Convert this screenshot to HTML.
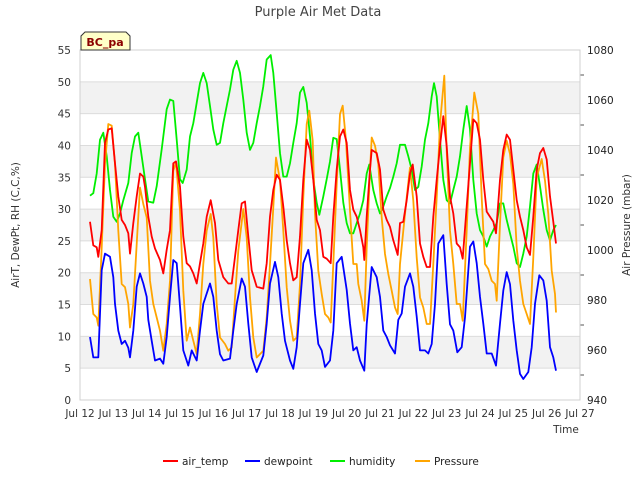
<!DOCTYPE html>
<html><head><meta charset="utf-8"><style>
body{margin:0;background:#fff;}
svg{display:block;font-family:"DejaVu Sans","Liberation Sans",sans-serif;}
</style></head><body>
<svg id="chart" width="640" height="480" viewBox="0 0 640 480" xmlns="http://www.w3.org/2000/svg">
<text x="318" y="16" text-anchor="middle" font-size="13" fill="#444">Purple Air Met Data</text>
<text transform="translate(19,225) rotate(-90)" text-anchor="middle" font-size="10.5" fill="#333">AirT, DewPt, RH (C,C,%)</text>
<text transform="translate(630,225) rotate(-90)" text-anchor="middle" font-size="10.5" fill="#333">Air Pressure (mbar)</text>
<text x="566" y="433" text-anchor="middle" font-size="10.5" fill="#333">Time</text>
<g id="bands"></g>
<g id="grid"></g>
<g id="axes"></g>
<g id="series"></g>
<g>
<path d="M85,32 L126,32 L130,36 L130,50 L81,50 L81,36 Z" fill="#ffffc8" stroke="#333" stroke-width="1"/>
<text x="105" y="46" text-anchor="middle" font-size="11" font-weight="bold" fill="#8b0000">BC_pa</text>
</g>
<g id="legend"></g>
</svg>
<script>
const xTickLabels=["Jul 12","Jul 13","Jul 14","Jul 15","Jul 16","Jul 17","Jul 18","Jul 19","Jul 20","Jul 21","Jul 22","Jul 23","Jul 24","Jul 25","Jul 26","Jul 27"];
const yTicks=[0,5,10,15,20,25,30,35,40,45,50,55];
const y2Ticks=[940,960,980,1000,1020,1040,1060,1080];
const seriesNames=["air_temp","dewpoint","humidity","Pressure"];
const tempT=[0.30,0.40,0.50,0.55,0.65,0.75,0.85,0.95,1.05,1.15,1.25,1.35,1.45,1.50,1.60,1.70,1.80,1.90,1.95,2.05,2.15,2.25,2.40,2.50,2.60,2.70,2.80,2.88,3.00,3.10,3.20,3.30,3.40,3.50,3.60,3.70,3.80,3.92,4.05,4.15,4.30,4.45,4.55,4.65,4.75,4.85,4.95,5.05,5.15,5.30,5.50,5.60,5.70,5.80,5.90,6.00,6.10,6.20,6.30,6.40,6.50,6.60,6.70,6.80,6.90,7.00,7.10,7.20,7.30,7.40,7.52,7.60,7.70,7.80,7.90,8.00,8.10,8.20,8.30,8.40,8.50,8.53,8.60,8.70,8.75,8.90,9.00,9.10,9.20,9.30,9.40,9.53,9.60,9.70,9.80,9.90,9.98,10.10,10.20,10.30,10.40,10.50,10.60,10.70,10.80,10.90,11.00,11.10,11.20,11.30,11.40,11.48,11.60,11.70,11.80,11.90,12.00,12.10,12.20,12.30,12.40,12.48,12.60,12.70,12.80,12.90,13.00,13.10,13.20,13.30,13.40,13.50,13.60,13.70,13.80,13.90,14.00,14.10,14.20,14.28];
const tempV=[28.0,24.3,24.0,22.5,26.7,40.4,42.5,42.7,37.2,32.0,28.3,27.5,26.2,23.0,27.8,32.0,35.6,35.1,33.5,28.8,25.7,23.8,22.0,19.9,23.6,26.7,37.2,37.5,33.5,25.7,21.5,21.0,19.9,18.3,21.5,24.6,28.8,31.4,27.8,22.0,19.3,18.3,18.3,22.5,26.7,30.9,31.2,25.7,20.4,17.8,17.5,21.5,28.8,33.0,35.4,34.6,30.4,25.1,21.5,18.8,19.3,25.7,34.6,40.9,39.3,34.6,28.3,26.7,22.5,22.2,21.5,28.8,36.2,41.4,42.5,40.4,33.0,29.9,28.8,26.7,24.0,22.0,28.8,36.2,39.3,38.8,36.2,29.9,28.3,27.2,25.1,22.8,27.8,28.0,31.4,35.6,37.0,32.0,24.6,22.5,20.9,20.9,28.8,34.6,39.9,44.6,39.9,32.0,29.3,24.6,24.0,22.2,30.4,37.2,44.1,43.5,40.9,34.6,29.6,28.8,28.0,26.2,34.6,39.3,41.7,40.9,36.2,31.4,28.8,26.7,24.0,22.8,28.8,36.2,38.8,39.6,37.8,32.0,28.0,24.6];
const dewT=[0.30,0.40,0.55,0.65,0.75,0.90,1.00,1.05,1.15,1.25,1.35,1.45,1.50,1.60,1.70,1.80,1.90,2.00,2.05,2.15,2.25,2.40,2.50,2.60,2.70,2.80,2.90,3.00,3.10,3.25,3.35,3.50,3.60,3.70,3.90,4.00,4.10,4.20,4.30,4.50,4.60,4.70,4.85,4.95,5.05,5.15,5.30,5.50,5.60,5.70,5.85,5.95,6.05,6.15,6.30,6.40,6.50,6.60,6.70,6.85,6.95,7.05,7.15,7.25,7.35,7.50,7.60,7.70,7.85,8.00,8.10,8.20,8.30,8.40,8.53,8.60,8.75,8.90,9.00,9.10,9.20,9.30,9.45,9.55,9.65,9.75,9.90,10.00,10.10,10.20,10.35,10.45,10.55,10.65,10.75,10.90,11.00,11.10,11.20,11.32,11.45,11.55,11.70,11.80,11.90,12.00,12.10,12.20,12.35,12.48,12.60,12.70,12.80,12.90,13.00,13.10,13.20,13.30,13.45,13.55,13.65,13.78,13.90,14.00,14.10,14.20,14.28];
const dewV=[9.9,6.7,6.7,20.4,23.0,22.5,19.3,15.1,10.9,8.8,9.3,8.2,6.7,10.9,17.8,19.9,18.3,16.2,12.6,9.3,6.2,6.5,5.7,9.9,16.2,22.0,21.5,14.7,7.8,5.4,7.8,6.2,10.9,15.1,18.3,16.2,10.9,7.2,6.2,6.5,10.9,15.1,19.1,17.8,12.0,6.7,4.4,7.0,12.0,18.3,21.7,19.3,13.6,9.3,6.2,4.9,8.3,15.1,21.5,23.6,20.4,13.6,8.8,7.8,5.2,6.2,10.9,21.5,22.5,17.3,12.0,7.8,8.3,6.2,4.6,11.9,20.9,19.3,16.2,10.9,9.9,8.6,7.3,12.6,13.6,17.8,19.9,17.8,13.1,7.8,7.8,7.3,8.8,15.1,24.6,25.9,18.2,11.9,10.9,7.5,8.3,13.0,24.1,24.9,21.5,16.2,12.0,7.3,7.3,5.4,12.0,17.2,20.1,18.2,12.5,7.8,4.1,3.3,4.4,8.3,15.1,19.6,18.8,15.6,8.3,6.7,4.6];
const humT=[0.30,0.40,0.50,0.60,0.70,0.80,0.90,1.00,1.10,1.20,1.30,1.45,1.55,1.65,1.75,1.85,1.95,2.05,2.20,2.30,2.45,2.60,2.70,2.80,2.90,3.00,3.08,3.20,3.30,3.40,3.50,3.60,3.70,3.80,3.90,4.00,4.10,4.20,4.30,4.40,4.50,4.60,4.70,4.80,4.90,5.00,5.10,5.20,5.30,5.40,5.50,5.60,5.72,5.80,5.90,6.00,6.10,6.20,6.30,6.40,6.50,6.60,6.70,6.80,6.90,7.00,7.10,7.18,7.30,7.40,7.50,7.60,7.70,7.80,7.90,8.00,8.10,8.20,8.30,8.40,8.50,8.60,8.68,8.80,8.90,9.00,9.10,9.20,9.30,9.40,9.50,9.60,9.75,9.85,9.95,10.05,10.15,10.25,10.35,10.45,10.55,10.62,10.70,10.80,10.90,11.00,11.10,11.20,11.30,11.40,11.50,11.60,11.70,11.80,11.90,12.00,12.10,12.20,12.30,12.40,12.50,12.60,12.70,12.80,12.90,13.00,13.10,13.20,13.30,13.40,13.50,13.60,13.70,13.80,13.90,14.00,14.10,14.20,14.28];
const humV=[32.1,32.5,35.6,40.9,42.0,38.3,33.0,28.8,28.0,29.3,31.4,34.1,38.8,41.4,42.0,38.3,34.7,31.2,31.0,33.6,39.4,45.7,47.2,47.0,40.9,34.7,34.1,36.2,41.4,43.5,46.7,49.8,51.4,49.8,46.2,42.5,40.1,40.4,43.5,46.2,48.8,51.9,53.3,51.4,47.2,42.0,39.3,40.4,43.5,46.2,49.3,53.5,54.2,51.4,45.1,38.8,35.1,35.1,37.2,40.4,43.5,48.3,49.2,46.7,41.4,34.7,31.0,29.1,32.0,34.7,37.5,41.2,41.0,36.2,31.0,27.8,26.2,26.2,27.8,29.3,31.4,35.6,37.0,33.0,30.9,29.3,30.4,32.0,33.3,35.1,37.2,40.1,40.1,38.3,36.2,33.0,33.5,36.7,40.9,43.5,47.7,49.8,47.7,40.9,34.6,31.4,30.9,33.0,35.1,38.3,42.5,46.2,42.5,34.6,29.3,26.7,25.7,24.1,25.7,26.7,27.8,30.9,30.9,28.3,26.2,24.1,21.5,20.9,23.0,25.7,30.4,35.6,37.0,33.6,29.9,26.7,25.1,26.7,27.5];
const presT=[0.30,0.40,0.50,0.55,0.65,0.75,0.85,0.95,1.05,1.15,1.25,1.35,1.45,1.50,1.60,1.70,1.80,1.90,2.00,2.10,2.20,2.30,2.40,2.50,2.60,2.70,2.80,2.88,3.00,3.10,3.20,3.30,3.40,3.50,3.60,3.70,3.80,3.92,4.00,4.10,4.20,4.35,4.45,4.55,4.65,4.75,4.90,5.00,5.10,5.20,5.30,5.50,5.60,5.70,5.80,5.88,6.00,6.10,6.20,6.30,6.40,6.50,6.60,6.70,6.80,6.88,6.98,7.05,7.15,7.25,7.35,7.45,7.52,7.60,7.70,7.80,7.88,7.98,8.10,8.20,8.30,8.35,8.45,8.53,8.60,8.70,8.75,8.85,8.95,9.05,9.15,9.25,9.35,9.45,9.53,9.60,9.70,9.80,9.90,10.00,10.10,10.20,10.30,10.40,10.50,10.60,10.70,10.80,10.93,11.00,11.10,11.20,11.30,11.40,11.48,11.60,11.70,11.83,11.95,12.05,12.15,12.25,12.35,12.45,12.50,12.60,12.70,12.80,12.90,13.00,13.10,13.20,13.30,13.40,13.50,13.60,13.70,13.85,13.95,14.05,14.15,14.25,14.28];
const presV=[988.4,974.4,973.0,969.7,1001,1034.4,1050.4,1049.7,1034.4,1007.7,986.4,985.1,978.4,969.0,978.4,1002.4,1025.0,1018.4,1013.0,987.7,978.4,973.0,967.7,959.7,970.4,987.7,1031.7,1035.0,1015.7,983.7,963.7,969.0,963.7,958.4,974.4,994.4,1007.7,1014.4,1005.0,978.4,965.0,962.4,959.7,961.0,981.0,999.7,1016.4,1005.0,981.0,965.0,957.0,959.7,973.0,994.4,1017.0,1037.0,1027.7,1007.7,985.1,971.7,963.7,965.0,986.4,1021.0,1050.4,1055.7,1043.7,1014.4,991.7,982.4,974.4,973.0,971.0,994.4,1026.4,1054.4,1057.7,1043.7,1015.7,994.4,994.4,986.4,979.7,971.7,1001.0,1031.7,1045.0,1041.7,1034.4,1013.0,998.4,990.4,983.7,977.0,974.4,994.4,1007.7,1021.0,1033.0,1019.7,997.0,981.0,977.0,970.4,970.4,994.4,1021.0,1050.4,1069.7,1039.7,1007.7,994.4,978.4,978.4,971.7,1007.7,1041.0,1063.0,1054.4,1021.0,994.4,992.4,987.7,986.4,979.7,1010.4,1037.0,1043.7,1038.4,1026.4,1001.0,987.7,978.4,974.4,970.4,997.0,1029.0,1036.4,1027.7,1014.4,991.7,982.4,975.0];

const NS="http://www.w3.org/2000/svg";
const L=80,R=580,T=50,B=400;
const xS=d=>L+(R-L)*d/15;
const yS=v=>B-(B-T)*v/55;
const y2S=p=>B-(B-T)*(p-940)/140;
function mk(tag,attrs,parent){const e=document.createElementNS(NS,tag);for(const k in attrs)e.setAttribute(k,attrs[k]);parent.appendChild(e);return e;}
const bands=document.getElementById('bands'),grid=document.getElementById('grid'),axes=document.getElementById('axes'),ser=document.getElementById('series'),leg=document.getElementById('legend');
for(let i=0;i<yTicks.length-1;i++){
  if(i%2===1){const r=mk('rect',{x:L,y:yS(yTicks[i+1]),width:R-L,height:yS(yTicks[i])-yS(yTicks[i+1]),fill:'#f2f2f2'},bands);
  
  }
}
yTicks.forEach(v=>{
  const g=mk('line',{x1:L,x2:R,y1:yS(v),y2:yS(v),stroke:'#dcdcdc','stroke-width':1},grid);
  
  
  const t=mk('text',{x:L-9,y:yS(v)+4,'text-anchor':'end','font-size':10.5,fill:'#333'},axes);
  
  
  t.textContent=v;
});
y2Ticks.forEach(p=>{
  const t=mk('text',{x:R+7,y:y2S(p)+4,'text-anchor':'start','font-size':10.5,fill:'#222'},axes);
  
  
  t.textContent=p;
  if(p<1080){const m=mk('line',{x1:R,x2:R+4,y1:y2S(p+10),y2:y2S(p+10),stroke:'#555'},axes);
  
  }
});
xTickLabels.forEach((lab,i)=>{
  const t=mk('text',{x:xS(i),y:417,'text-anchor':'middle','font-size':10.5,fill:'#333'},axes);
  
  
  t.textContent=lab;
});
const fr=mk('rect',{x:L,y:T,width:R-L,height:B-T,fill:'none',stroke:'#d0d0d0'},axes);


const colors=['#ff0000','#0000ff','#00ee00','#ffa500'];
const data=[[tempT,tempV,yS],[dewT,dewV,yS],[humT,humV,yS],[presT,presV,y2S]];
const order=[2,3,0,1];
order.forEach(i=>{
  const [ts,vs,sc]=data[i];
  const d=ts.map((t,j)=>(j?'L':'M')+xS(t).toFixed(1)+','+sc(vs[j]).toFixed(1)).join(' ');
  const p=mk('path',{d:d,fill:'none',stroke:colors[i],'stroke-width':1.8,'stroke-linejoin':'round'},ser);
  
  
});
const lx=[163,245,330,415];
seriesNames.forEach((n,i)=>{
  const g=mk('g',{},leg);
  
  
  mk('line',{x1:lx[i],x2:lx[i]+15,y1:461,y2:461,stroke:colors[i],'stroke-width':2},g);
  const t=mk('text',{x:lx[i]+19,y:465,'font-size':10.5,fill:'#222'},g);
  t.textContent=n;
});
</script>
</body></html>
